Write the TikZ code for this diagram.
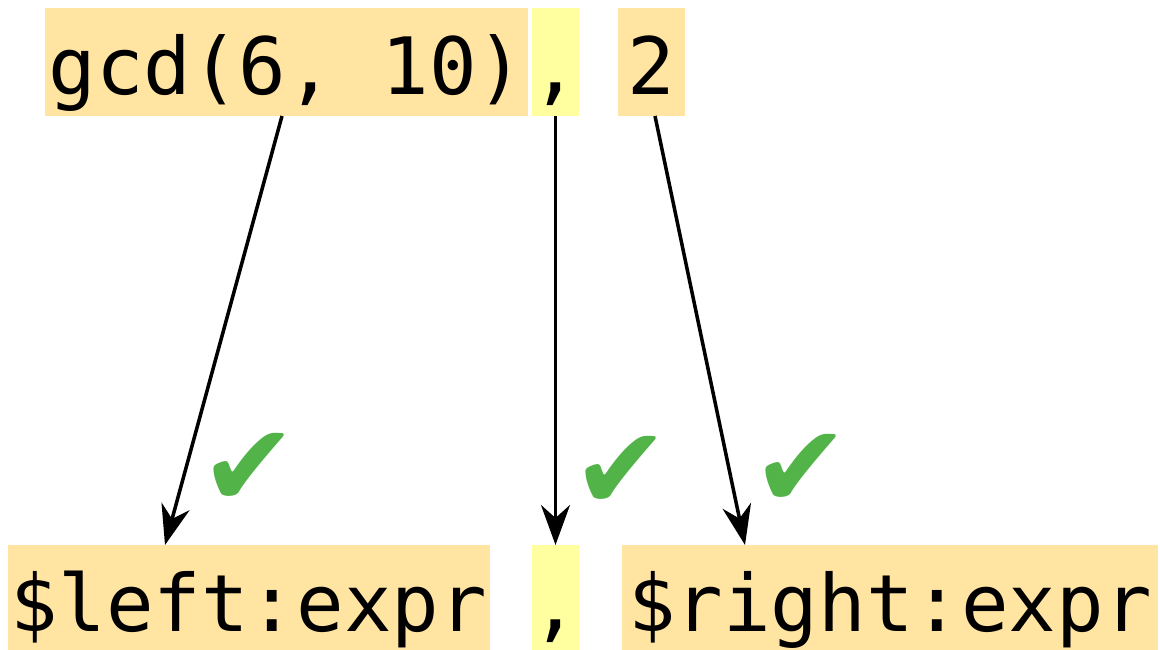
\documentclass[tikz,border=0pt]{standalone}
\usepackage{fontspec}
\setmonofont{DejaVu Sans Mono}
\newfontfamily\checkfont{DejaVu Sans}
\usepackage{tikz}
\usetikzlibrary{arrows.meta}
\definecolor{tokorange}{RGB}{255,228,162}
\definecolor{tokyellow}{RGB}{255,255,160}
\definecolor{okgreen}{RGB}{82,180,72}
\tikzset{tok/.style={fill=tokorange,inner xsep=0pt,inner ysep=0pt,outer sep=0pt,text height=1.74cm,text depth=0.42cm,anchor=base,font=\ttfamily\fontsize{45}{50}\selectfont},
  septok/.style={tok,fill=tokyellow},
  ok/.style={text=okgreen,inner sep=0pt,font=\checkfont\fontsize{66}{72}\selectfont}}

\begin{document}
\begin{tikzpicture}[>={Stealth[length=0.8cm,width=0.58cm,inset=0.26cm]},line width=2pt]
\useasboundingbox[fill=white] (0,0) rectangle (23.2,13);
% --- top row: the call
\node[tok,minimum width=9.66cm] (gcd) at (5.73,11.1) {gcd(6, 10)};
\node[septok,minimum width=0.9cm] (comma1) at (11.11,11.1) {,};
\node[tok,minimum width=1.34cm] (two) at (13.03,11.1) {2};
% --- bottom row: the pattern
\node[tok,minimum width=9.64cm] (left) at (4.98,0.36) {\$left:expr};
\node[septok,minimum width=0.9cm] (comma2) at (11.11,0.36) {,};
\node[tok,minimum width=10.72cm] (right) at (17.8,0.36) {\$right:expr};
% --- matches
\draw[->] ([xshift=-0.09cm]gcd.south) -- ([xshift=-1.68cm]left.north);
\draw[->] (comma1.south) -- (comma2.north);
\draw[->] ([xshift=0.07cm]two.south) -- ([xshift=-2.9cm]right.north);
\node[ok] (ok1) at (4.98,3.6) {✔};
\node[ok] (ok2) at (12.42,3.55) {✔};
\node[ok] (ok3) at (16.02,3.58) {✔};
\end{tikzpicture}
\end{document}
